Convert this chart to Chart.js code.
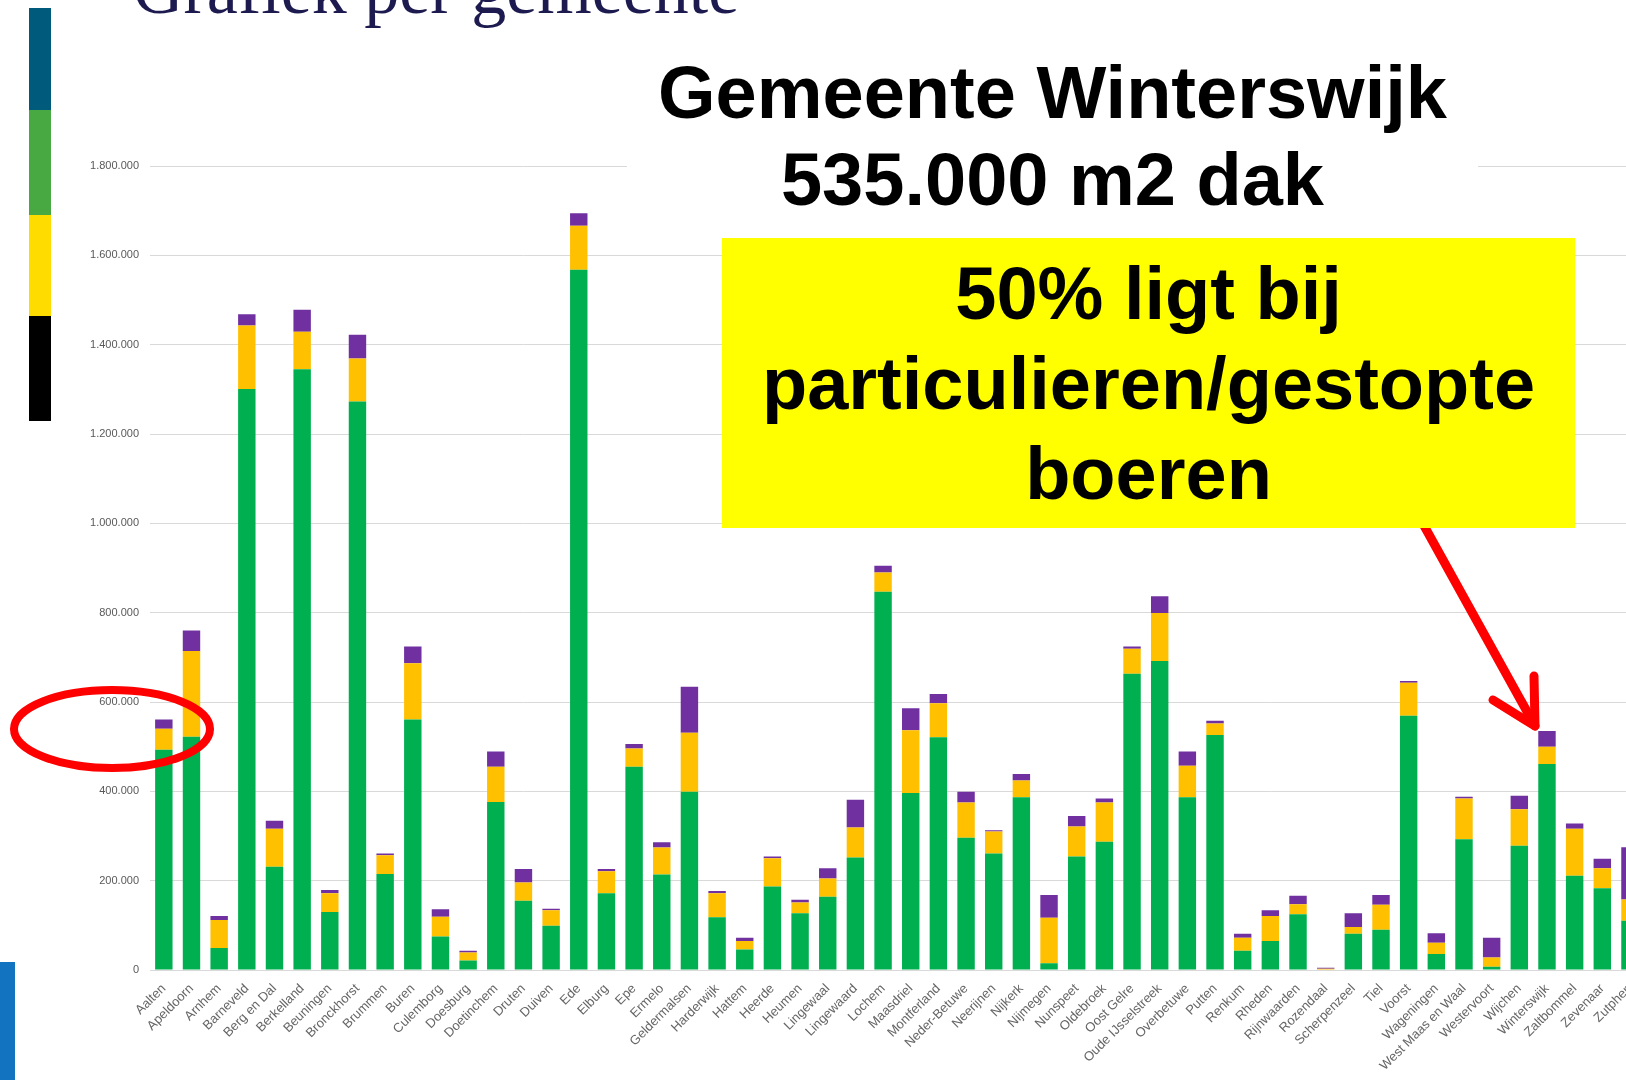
<!DOCTYPE html>
<html>
<head>
<meta charset="utf-8">
<script src="https://cdn.jsdelivr.net/npm/chart.js@4/dist/chart.umd.min.js"></script>
<style>
  html, body { margin: 0; padding: 0; width: 1626px; height: 1080px; overflow: hidden; background: #fff; }
  #wrap { position: absolute; left: 0; top: 0; width: 1644px; height: 1080px; }
  .title { position: absolute; left: 133px; top: -45px; font: 70px/70px "Liberation Serif", serif; color: #1c1a4f; white-space: nowrap; }
  .stripe { position: absolute; left: 29px; width: 22px; }
  .big { font-family: "Liberation Sans", Arial, sans-serif; font-weight: bold; font-size: 74px; color: #000; text-align: center; white-space: nowrap; }
  #whitebox { position: absolute; left: 627px; top: 49px; width: 851px; line-height: 87px; background: #fff; }
  #yellowbox { position: absolute; left: 722px; top: 238px; width: 853px; height: 290px; box-sizing: border-box; padding-top: 11px; line-height: 90px; background: #ffff00; }
  #marks { position: absolute; left: 0; top: 0; }
</style>
</head>
<body>
<div id="wrap"><canvas id="chart"></canvas></div>

<div class="title">Grafiek per gemeente</div>
<div class="stripe" style="top:8px;height:102px;background:#005a7c"></div>
<div class="stripe" style="top:110px;height:105px;background:#48a942"></div>
<div class="stripe" style="top:215px;height:101px;background:#ffdc00"></div>
<div class="stripe" style="top:316px;height:105px;background:#000"></div>
<div style="position:absolute;left:0;top:962px;width:15px;height:118px;background:#1273c1"></div>

<div id="whitebox" class="big">Gemeente Winterswijk<br>535.000 m2 dak</div>

<svg id="marks" width="1626" height="1080">
  <ellipse cx="112" cy="729" rx="98" ry="39" fill="none" stroke="#ff0000" stroke-width="8"/>
  <g stroke="#ff0000" stroke-width="9" stroke-linecap="round" stroke-linejoin="round" fill="none">
    <line x1="1422" y1="522" x2="1535" y2="726"/>
    <polyline points="1493,700 1535,726 1534,676"/>
  </g>
</svg>

<div id="yellowbox" class="big">50% ligt bij<br>particulieren/gestopte<br>boeren</div>

<script>
const gemeenten = ['Aalten', 'Apeldoorn', 'Arnhem', 'Barneveld', 'Berg en Dal', 'Berkelland', 'Beuningen',
  'Bronckhorst', 'Brummen', 'Buren', 'Culemborg', 'Doesburg', 'Doetinchem', 'Druten', 'Duiven', 'Ede',
  'Elburg', 'Epe', 'Ermelo', 'Geldermalsen', 'Harderwijk', 'Hattem', 'Heerde', 'Heumen', 'Lingewaal',
  'Lingewaard', 'Lochem', 'Maasdriel', 'Montferland', 'Neder-Betuwe', 'Neerijnen', 'Nijkerk', 'Nijmegen',
  'Nunspeet', 'Oldebroek', 'Oost Gelre', 'Oude IJsselstreek', 'Overbetuwe', 'Putten', 'Renkum', 'Rheden',
  'Rijnwaarden', 'Rozendaal', 'Scherpenzeel', 'Tiel', 'Voorst', 'Wageningen', 'West Maas en Waal',
  'Westervoort', 'Wijchen', 'Winterswijk', 'Zaltbommel', 'Zevenaar', 'Zutphen'];

// m2 dak per gemeente, drie delen
const groen = [493000, 522000, 49000, 1301000, 231000, 1345000, 130000, 1273000, 215000, 561000, 75000,
  21000, 376000, 155000, 99000, 1568000, 172000, 455000, 214000, 399000, 118000, 46000, 187000, 127000,
  164000, 252000, 847000, 396000, 521000, 296000, 261000, 387000, 15000, 254000, 287000, 663000, 692000,
  387000, 526000, 43000, 65000, 125000, 1000, 81000, 90000, 569000, 36000, 293000, 7000, 278000, 461000,
  211000, 183000, 110000];
const geel = [47000, 192000, 63000, 142000, 85000, 84000, 42000, 96000, 42000, 126000, 44000, 18000,
  79000, 41000, 35000, 98000, 49000, 41000, 60000, 132000, 54000, 19000, 63000, 24000, 41000, 67000,
  43000, 141000, 76000, 79000, 49000, 37000, 102000, 67000, 88000, 56000, 107000, 70000, 26000, 29000,
  56000, 22000, 2000, 15000, 56000, 74000, 25000, 91000, 21000, 82000, 39000, 105000, 45000, 48000];
const paars = [21000, 46000, 9000, 25000, 18000, 49000, 7000, 53000, 4000, 37000, 17000, 4000, 34000,
  30000, 3000, 28000, 5000, 10000, 12000, 103000, 5000, 7000, 4000, 6000, 23000, 62000, 15000, 49000,
  21000, 24000, 3000, 15000, 51000, 24000, 9000, 5000, 38000, 32000, 6000, 9000, 13000, 19000, 2000,
  31000, 22000, 4000, 21000, 4000, 44000, 30000, 35000, 12000, 21000, 117000];

const yMax = 1800000;
const yStep = 200000;

function puntjes(v) {
  return String(v).replace(/\B(?=(\d{3})+(?!\d))/g, '.');
}

const ctx = document.getElementById('chart').getContext('2d');
new Chart(ctx, {
  type: 'bar',
  data: {
    labels: gemeenten,
    datasets: [
      { label: 'Serie 1', data: groen, backgroundColor: '#00b050' },
      { label: 'Serie 2', data: geel, backgroundColor: '#ffc000' },
      { label: 'Serie 3', data: paars, backgroundColor: '#7030a0' }
    ]
  },
  options: {
    responsive: true,
    maintainAspectRatio: false,
    animation: false,
    layout: { padding: { top: 166, left: 0, right: 0, bottom: 0 } },
    datasets: { bar: { barPercentage: 0.9, categoryPercentage: 0.7 } },
    plugins: { legend: { display: false }, tooltip: { enabled: false } },
    scales: {
      x: {
        stacked: true,
        grid: { display: false },
        border: { color: '#d9d9d9' },
        ticks: {
          minRotation: 45, maxRotation: 45, autoSkip: false,
          color: '#666666', font: { family: 'Liberation Sans', size: 13 }
        },
        afterFit: s => { s.height = 110; }
      },
      y: {
        stacked: true,
        min: 0, max: yMax,
        grid: { color: '#d9d9d9', drawTicks: false },
        border: { display: false },
        ticks: {
          stepSize: yStep, padding: 11,
          color: '#595959', font: { family: 'Liberation Sans', size: 11 },
          callback: v => puntjes(v)
        },
        afterFit: s => { s.width = 150; }
      }
    }
  }
});
</script>
</body>
</html>
